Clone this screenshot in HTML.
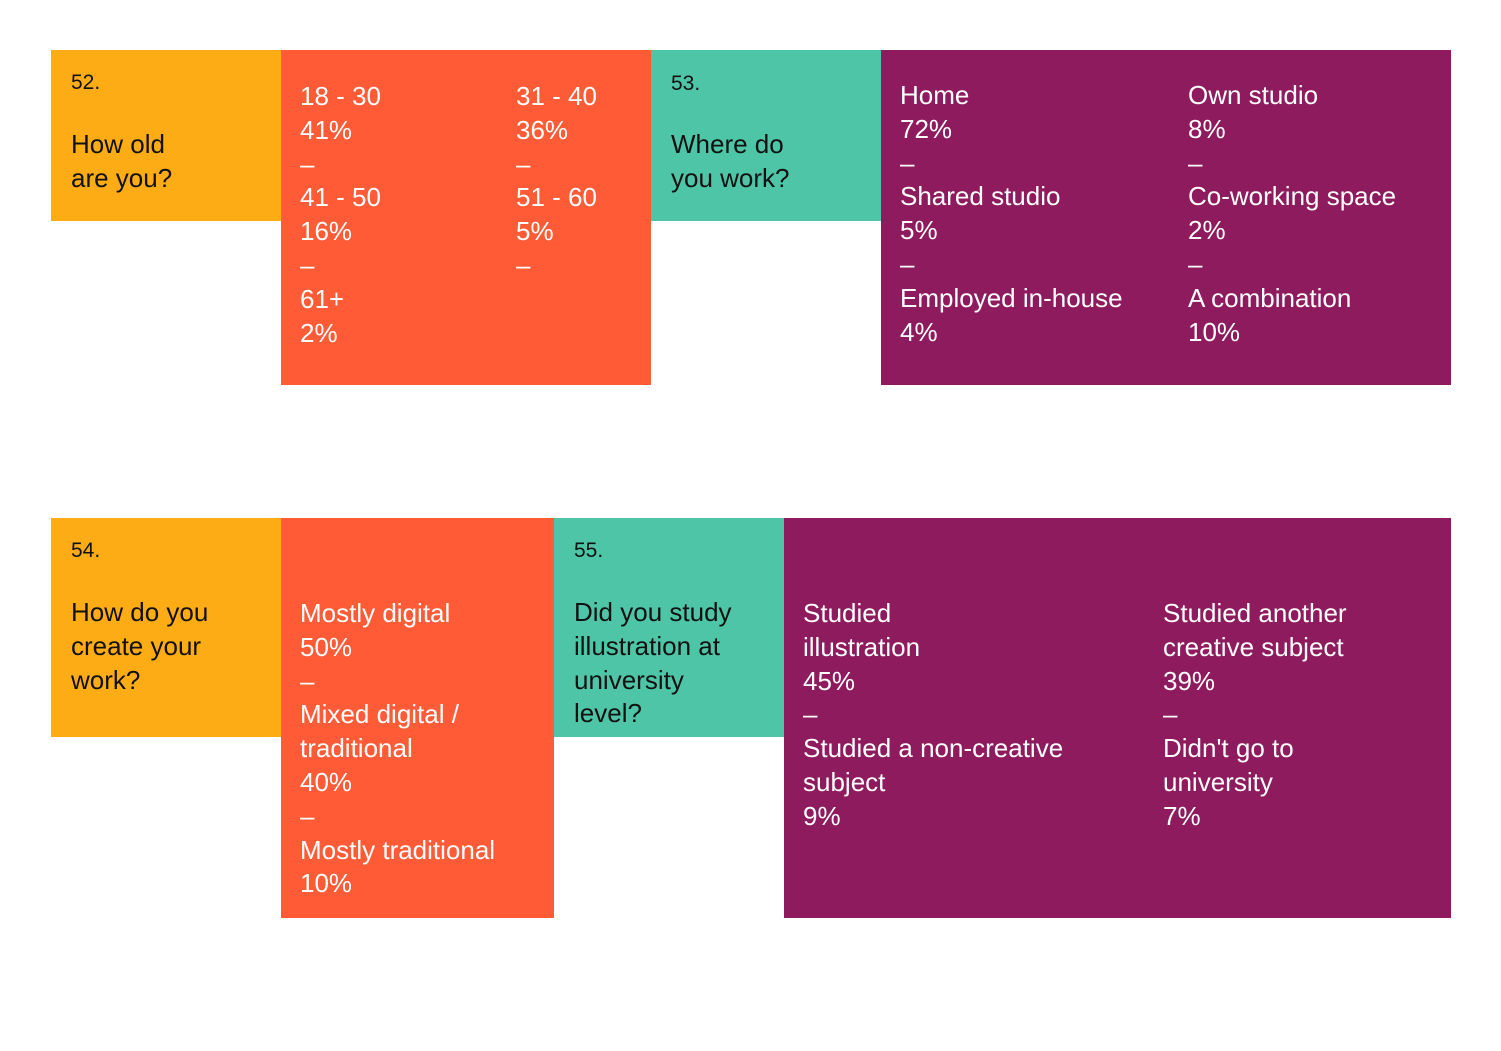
<!DOCTYPE html>
<html><head><meta charset="utf-8"><style>
body{margin:0;width:1501px;height:1051px;background:#fff;position:relative;overflow:hidden;font-family:"Liberation Sans",sans-serif}
.b{position:absolute}
.y{background:#FDAC16}.o{background:#FF5B37}.t{background:#4EC5A6}.p{background:#8E1B5E}
.tx{position:absolute;font-size:26px;line-height:33.8px;white-space:nowrap}
.w{color:#fff}.k{color:#111}
.n{position:absolute;font-size:21px;color:#111}
</style></head><body>
<div class="b y" style="left:51px;top:50px;width:230px;height:171px"></div>
<div class="b o" style="left:281px;top:50px;width:370px;height:335px"></div>
<div class="b t" style="left:651px;top:50px;width:230px;height:171px"></div>
<div class="b p" style="left:881px;top:50px;width:570px;height:335px"></div>
<div class="b y" style="left:51px;top:518px;width:230px;height:219px"></div>
<div class="b o" style="left:281px;top:518px;width:273px;height:400px"></div>
<div class="b t" style="left:554px;top:518px;width:230px;height:219px"></div>
<div class="b p" style="left:784px;top:518px;width:667px;height:400px"></div>

<div class="n" style="left:71px;top:71px">52.</div>
<div class="tx k" style="left:71px;top:128px">How old<br>are you?</div>
<div class="tx w" style="left:300px;top:80px">18 - 30<br>41%<br>–<br>41 - 50<br>16%<br>–<br>61+<br>2%</div>
<div class="tx w" style="left:516px;top:80px">31 - 40<br>36%<br>–<br>51 - 60<br>5%<br>–</div>

<div class="n" style="left:671px;top:72px">53.</div>
<div class="tx k" style="left:671px;top:128px">Where do<br>you work?</div>
<div class="tx w" style="left:900px;top:79px">Home<br>72%<br>–<br>Shared studio<br>5%<br>–<br>Employed in-house<br>4%</div>
<div class="tx w" style="left:1188px;top:79px">Own studio<br>8%<br>–<br>Co-working space<br>2%<br>–<br>A combination<br>10%</div>

<div class="n" style="left:71px;top:539px">54.</div>
<div class="tx k" style="left:71px;top:596px">How do you<br>create your<br>work?</div>
<div class="tx w" style="left:300px;top:597px">Mostly digital<br>50%<br>–<br>Mixed digital /<br>traditional<br>40%<br>–<br>Mostly traditional<br>10%</div>

<div class="n" style="left:574px;top:539px">55.</div>
<div class="tx k" style="left:574px;top:596px">Did you study<br>illustration at<br>university<br>level?</div>
<div class="tx w" style="left:803px;top:597px">Studied<br>illustration<br>45%<br>–<br>Studied a non-creative<br>subject<br>9%</div>
<div class="tx w" style="left:1163px;top:597px">Studied another<br>creative subject<br>39%<br>–<br>Didn't go to<br>university<br>7%</div>
</body></html>
